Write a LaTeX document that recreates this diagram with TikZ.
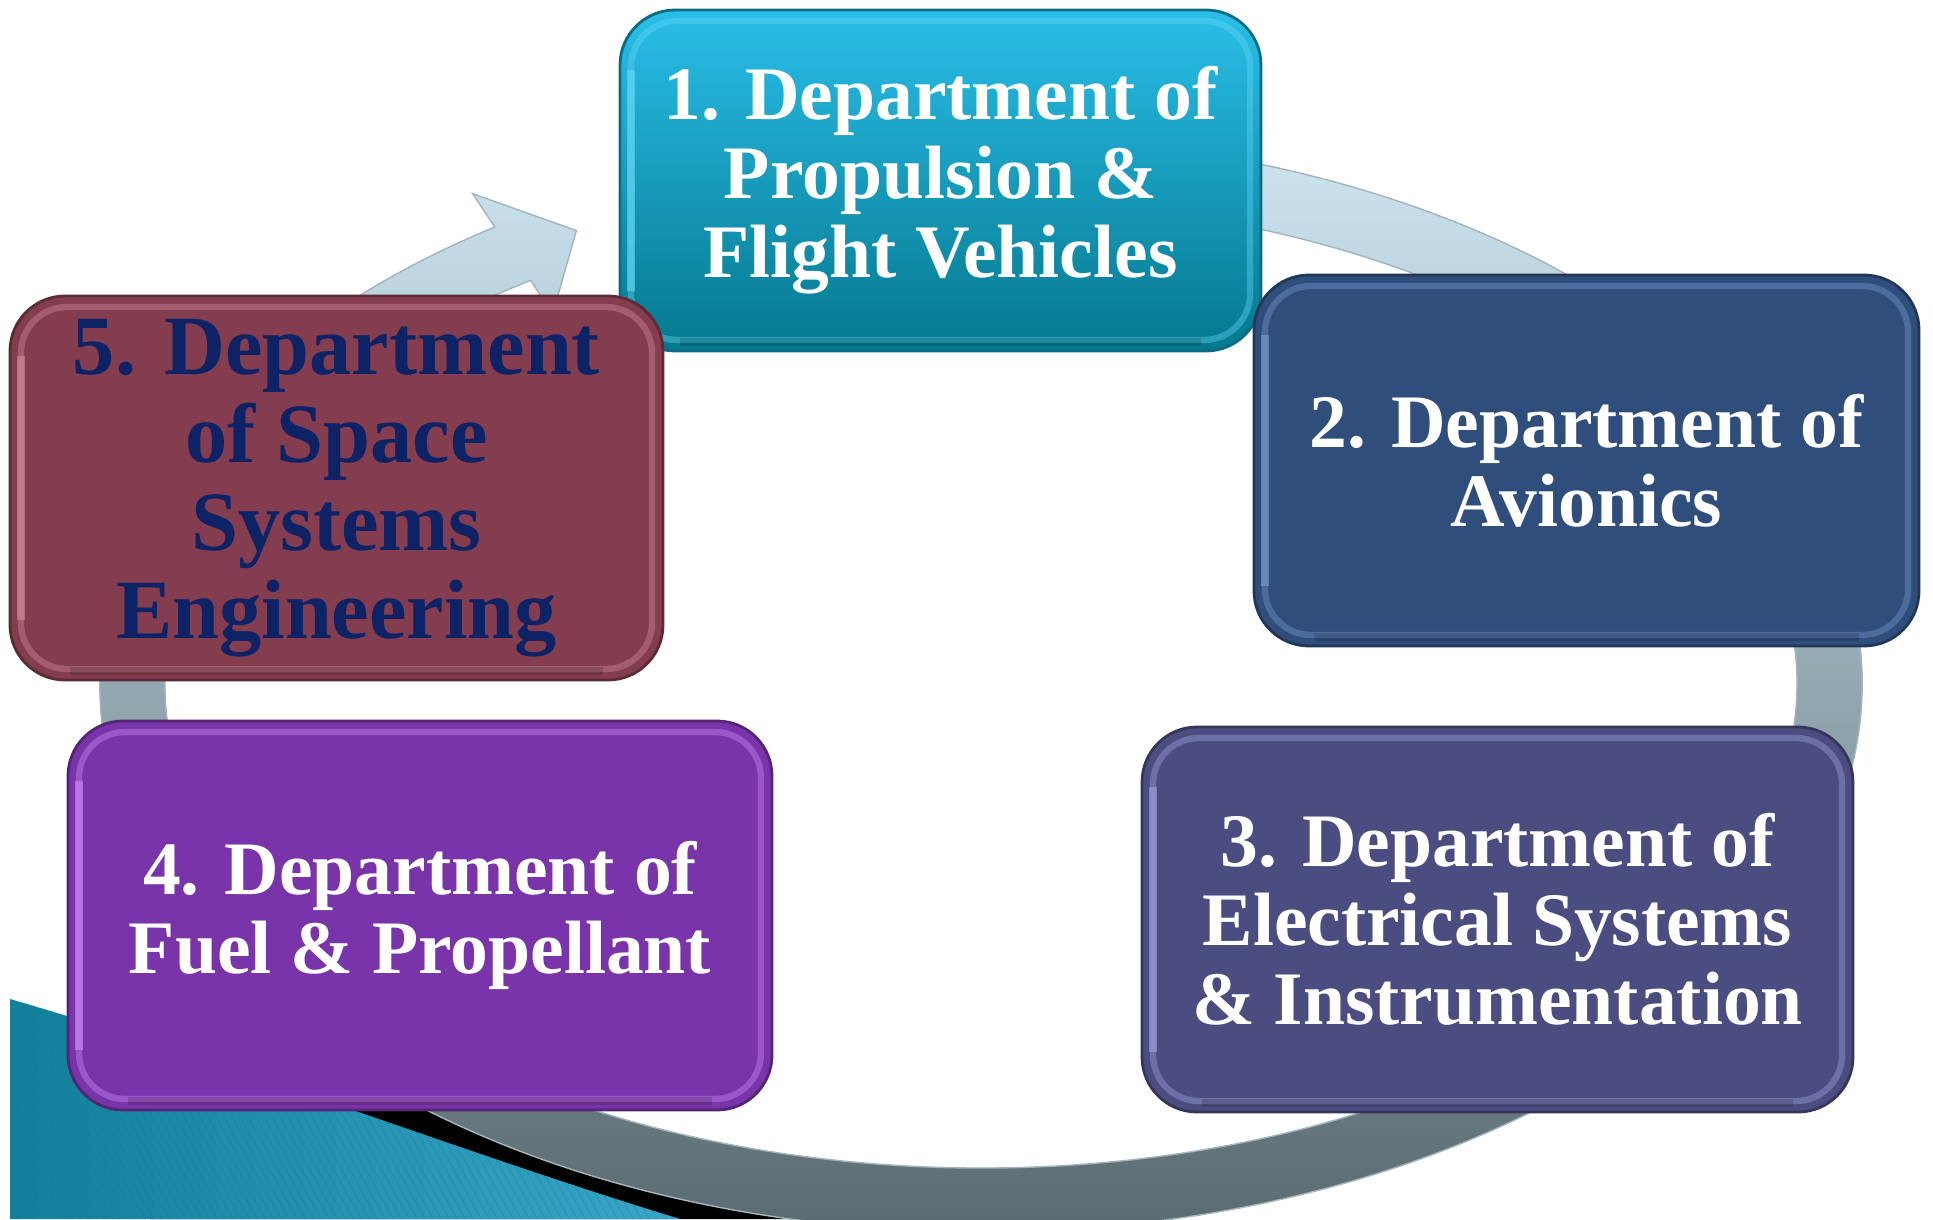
\documentclass[tikz,border=0pt]{standalone}
\usepackage{fontspec}
\setmainfont{Liberation Serif}
\usepackage{tikz}
\usetikzlibrary{calc}
\usepackage{xcolor}
\definecolor{ringtop}{HTML}{CCE5F1}
\definecolor{ringmid}{HTML}{A0B6BF}
\definecolor{ringbot}{HTML}{55656B}
\definecolor{ringedge}{HTML}{A3B4BC}
\definecolor{tealdk}{HTML}{12809A}
\definecolor{tealmd}{HTML}{3AA6C8}
\definecolor{teallt}{HTML}{62C0DE}
\definecolor{cyantop}{HTML}{2ABEE8}
\definecolor{cyanbot}{HTML}{05788E}
\definecolor{cyanedge}{HTML}{0B6C84}
\definecolor{cyanhl}{HTML}{62D8F6}
\definecolor{avion}{HTML}{2F4E7C}
\definecolor{avionhl}{HTML}{7C9BD2}
\definecolor{elec}{HTML}{4B4D81}
\definecolor{elechl}{HTML}{A0A3E2}
\definecolor{fuel}{HTML}{7834A8}
\definecolor{fuelhl}{HTML}{CB8CF7}
\definecolor{space}{HTML}{833D4F}
\definecolor{spacehl}{HTML}{D38F9E}
\definecolor{navy}{HTML}{0E2266}
\tikzset{
  dept/.style={rounded corners=5.5mm, align=center, inner sep=0pt, line width=0.8pt,
               text=white, font=\fontsize{21.5}{22.5}\selectfont\bfseries},
  glow/.style={path picture={
      \draw[draw=#1, line width=1.8pt, rounded corners=4.6mm, opacity=0.4]
        ([shift={(11,-11)}]path picture bounding box.north west) rectangle
        ([shift={(-11,11)}]path picture bounding box.south east);
      \draw[draw=#1, line width=2.2pt, opacity=0.6]
        ([shift={(11,60)}]path picture bounding box.south west)
        -- ([shift={(11,-60)}]path picture bounding box.north west);
      \draw[draw=black, line width=2pt, opacity=0.15]
        ([shift={(60,9)}]path picture bounding box.south west)
        -- ([shift={(-60,9)}]path picture bounding box.south east);}},
  cyanbox/.style={dept, top color=cyantop, bottom color=cyanbot, draw=cyanedge, glow=cyanhl},
  avionbox/.style={dept, fill=avion, draw=avion!70!black, glow=avionhl},
  elecbox/.style={dept, fill=elec, draw=elec!70!black, glow=elechl},
  fuelbox/.style={dept, fill=fuel, draw=fuel!70!black, glow=fuelhl},
  spacebox/.style={dept, fill=space, draw=space!70!black, glow=spacehl, text=navy,
               font=\fontsize{24}{25}\selectfont\bfseries},
  ringshade/.style={top color=ringtop, middle color=ringmid, bottom color=ringbot,
               draw=ringedge, line width=0.4pt},
  stripe/.style={draw=tealdk, opacity=0.25, line width=0.4pt}
}

\begin{document}
\begin{tikzpicture}[x=0.1mm,y=0.1mm]
  \useasboundingbox (0,0) rectangle (1933,1219);

  \fill[black] (150,250) -- (800,0) -- (150,0) -- cycle;
  \begin{scope}
    \clip (10,220) .. controls (250,150) and (470,64) .. (680,0) -- (10,0) -- cycle;
    \shade[left color=tealdk, middle color=teallt, right color=tealmd] (10,0) rectangle (680,220);
    \foreach \s in {-200,-192,...,700}
      \draw[stripe] (\s,230) -- ++(135,-240);
  \end{scope}

  \coordinate (ring) at (981,535);
  \shade[ringshade] ($(ring)+(80:881 and 548)$)
      arc[start angle=80, end angle=-236.5, x radius=881, y radius=548]
      -- ($(ring)+(123.5:921 and 588)$) -- ($(ring)+(118.5:848 and 516)$)
      -- ($(ring)+(123.5:776 and 444)$) -- ($(ring)+(123.5:816 and 484)$)
      arc[start angle=-236.5, end angle=80, x radius=816, y radius=484] -- cycle;

  \node[cyanbox, minimum width=64.1mm, minimum height=34.1mm] (prop) at (940.5,1038.5)
     {1. Department of\\Propulsion \&\\Flight Vehicles};
  \node[avionbox, minimum width=66.5mm, minimum height=37.1mm] (avio) at (1586.5,758.5)
     {2. Department of\\Avionics};
  \node[spacebox, minimum width=65.3mm, minimum height=38.4mm] (spc) at (336.5,731)
     {5. Department\\of Space\\Systems\\Engineering};
  \node[elecbox, minimum width=71.1mm, minimum height=38.5mm] (elec) at (1497.5,299.5)
     {3. Department of\\Electrical Systems\\\& Instrumentation};
  \node[fuelbox, minimum width=70.4mm, minimum height=38.9mm] (fuel) at (420,303.5)
     {4. Department of\\Fuel \& Propellant};
\end{tikzpicture}
\end{document}
